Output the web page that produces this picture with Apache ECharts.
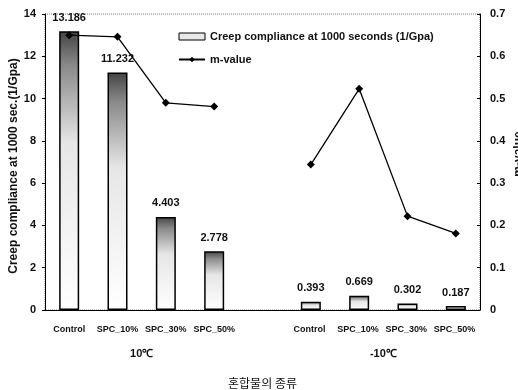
<!DOCTYPE html>
<html>
<head>
<meta charset="utf-8">
<script src="https://cdn.jsdelivr.net/npm/echarts@6/dist/echarts.min.js"></script>
<style>html,body{margin:0;padding:0;background:#fff}#c{width:518px;height:390px}</style>
</head>
<body>
<div id="c"></div>
<script>
var categories = ['Control','SPC_10%','SPC_30%','SPC_50%','','Control ','SPC_10% ','SPC_30% ','SPC_50% '];
var creepValues = [13.186, 11.232, 4.403, 2.778, null, 0.393, 0.669, 0.302, 0.187];
var mValues = [0.650, 0.646, 0.490, 0.481, null, 0.344, 0.523, 0.222, 0.181];
var leftTicks = [0, 2, 4, 6, 8, 10, 12, 14];
var rightTicks = [0, 0.1, 0.2, 0.3, 0.4, 0.5, 0.6, 0.7];
var groupLabels = ['10℃', '-10℃'];
var groupIdx = [[0, 3], [5, 8]];
var leftName = 'Creep compliance at 1000 sec.(1/Gpa)';
var rightName = 'm-value';

var FONT = '"Liberation Sans", Arial, sans-serif';
var chart = echarts.init(document.getElementById('c'));
var barFill = new echarts.graphic.LinearGradient(0, 0, 0, 1, [
  {offset: 0, color: '#444'},
  {offset: 0.12, color: '#888'},
  {offset: 0.4, color: '#e6e6e6'},
  {offset: 1, color: '#fff'}
]);
var option = {
  animation: false,
  backgroundColor: '#fff',
  grid: {left: 45, right: 38, top: 14, bottom: 80, containLabel: false, outerBoundsMode: 'none',
    show: true, borderColor: '#777', borderWidth: 1, borderType: 'dotted'},
  legend: {
    left: 173, top: 26, orient: 'vertical', itemGap: 12,
    itemWidth: 26, itemHeight: 7,
    textStyle: {fontFamily: FONT, fontWeight: 'bold', fontSize: 11, color: '#111'},
    data: [
      {name: 'Creep compliance at 1000 seconds (1/Gpa)', icon: 'rect', itemStyle: {color: '#e8e8e8', borderColor: '#000', borderWidth: 1}},
      {name: 'm-value'}
    ]
  },
  xAxis: {
    type: 'category', data: categories, boundaryGap: true,
    axisLine: {lineStyle: {color: '#000', width: 1}},
    axisTick: {show: false},
    axisLabel: {fontFamily: FONT, fontWeight: 'bold', fontSize: 9, color: '#111', margin: 15, interval: 0},
    name: '혼합물의 종류', nameLocation: 'middle', nameGap: 67,
    nameTextStyle: {fontFamily: '"Noto Sans CJK KR", sans-serif', fontSize: 12, color: '#111'}
  },
  yAxis: [{
    type: 'value', min: 0, max: 14, interval: 2,
    axisLine: {show: true, lineStyle: {color: '#000', width: 1}},
    axisTick: {show: true, inside: false, length: 3, lineStyle: {color: '#000'}},
    splitLine: {show: false},
    axisLabel: {fontFamily: FONT, fontWeight: 'bold', fontSize: 11, color: '#111', margin: 9}
  }, {
    type: 'value', min: 0, max: 0.7, interval: 0.1, position: 'right',
    axisLine: {show: true, lineStyle: {color: '#000', width: 1}},
    axisTick: {show: true, inside: true, length: 3, lineStyle: {color: '#000'}},
    splitLine: {show: false},
    axisLabel: {fontFamily: FONT, fontWeight: 'bold', fontSize: 11, color: '#111', margin: 10,
      formatter: function (v) { return v === 0 ? '0' : v.toFixed(1); }}
  }],
  series: [{
    name: 'Creep compliance at 1000 seconds (1/Gpa)', type: 'bar', yAxisIndex: 0,
    data: creepValues, barWidth: 20,
    itemStyle: {color: barFill, borderColor: '#000', borderWidth: 1.5},
    label: {show: true, position: 'top', distance: 8, fontFamily: FONT, fontWeight: 'bold', fontSize: 11, color: '#111',
      formatter: function (p) { return p.value.toFixed(3); }}
  }, {
    name: 'm-value', type: 'line', yAxisIndex: 1, data: mValues, connectNulls: false,
    symbol: 'diamond', symbolSize: 8,
    lineStyle: {color: '#000', width: 1.3}, itemStyle: {color: '#000'}
  }]
};
chart.setOption(option);
var y0 = chart.convertToPixel({yAxisIndex: 0}, 0);
var yMid = chart.convertToPixel({yAxisIndex: 0}, 7);
var xL = chart.convertToPixel({xAxisIndex: 0}, 0) - 24;
var xR = chart.convertToPixel({xAxisIndex: 0}, 8) + 24;
var gr = groupLabels.map(function (t, i) {
  var a = chart.convertToPixel({xAxisIndex: 0}, groupIdx[i][0]);
  var b = chart.convertToPixel({xAxisIndex: 0}, groupIdx[i][1]);
  return {type: 'text', x: (a + b) / 2, y: y0 + 44,
    style: {text: t, fontFamily: FONT, fontWeight: 'bold', fontSize: 11, fill: '#111', textAlign: 'center', textVerticalAlign: 'middle'}};
});
gr.push({type: 'text', x: xL - 31, y: yMid + 4, rotation: Math.PI / 2,
  style: {text: leftName, fontFamily: FONT, fontWeight: 'bold', fontSize: 12, fill: '#111', textAlign: 'center', textVerticalAlign: 'middle'}});
gr.push({type: 'text', x: xR + 39, y: yMid - 8, rotation: Math.PI / 2,
  style: {text: rightName, fontFamily: FONT, fontWeight: 'bold', fontSize: 12, fill: '#111', textAlign: 'center', textVerticalAlign: 'middle'}});
chart.setOption({graphic: gr});
</script>
</body>
</html>
